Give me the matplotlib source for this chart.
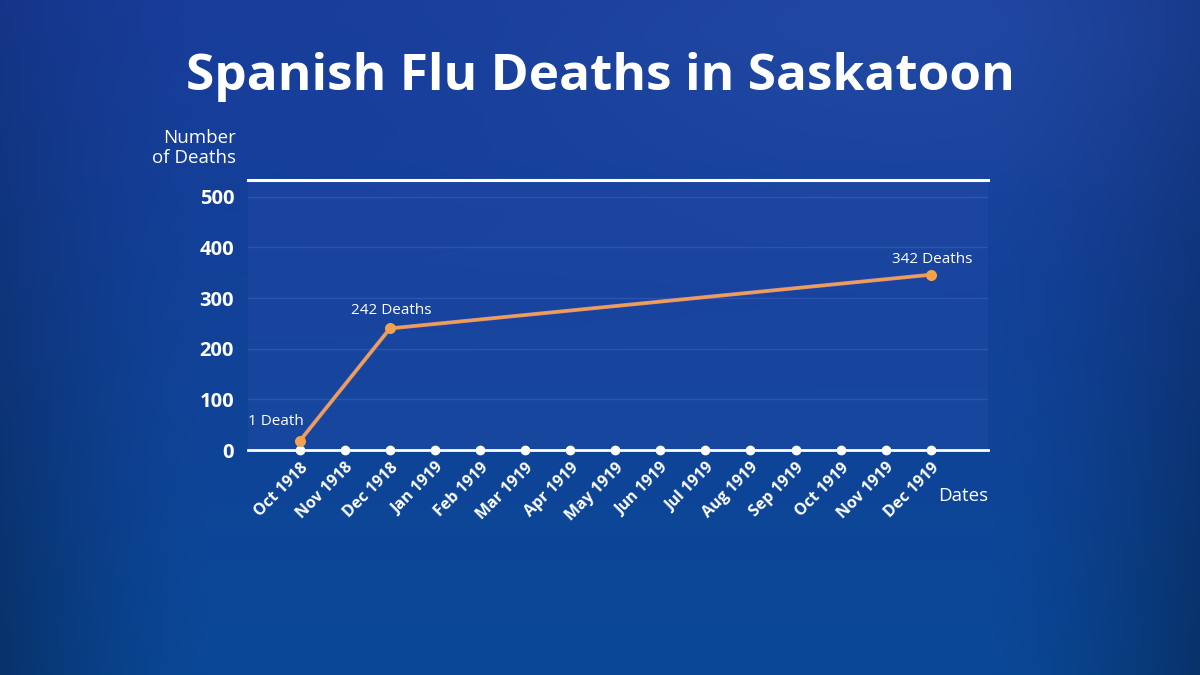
import numpy as np
import matplotlib
matplotlib.use("Agg")
import matplotlib.pyplot as plt
from matplotlib.colors import to_rgb

# ---- data ----
months = ["Oct 1918", "Nov 1918", "Dec 1918", "Jan 1919", "Feb 1919", "Mar 1919",
          "Apr 1919", "May 1919", "Jun 1919", "Jul 1919", "Aug 1919", "Sep 1919",
          "Oct 1919", "Nov 1919", "Dec 1919"]
point_months = ["Oct 1918", "Dec 1918", "Dec 1919"]
point_values = [18, 240, 346]
point_labels = ["1 Death", "242 Deaths", "342 Deaths"]
y_ticks = [0, 100, 200, 300, 400, 500]

plt.rcParams['font.family'] = ['Open Sans', 'DejaVu Sans']

fig = plt.figure(figsize=(12, 6.75), dpi=100)

# ---- background gradient ----
bg = fig.add_axes([0, 0, 1, 1], zorder=-10)
H, W = 270, 480
yy, xx = np.mgrid[0:1:H * 1j, 0:1:W * 1j]
top = np.array(to_rgb("#183c9a"))
bot = np.array(to_rgb("#0a4897"))
t = yy[..., None]
img = top * (1 - t) + bot * t
# lighter glow top-right
glow = np.exp(-(((xx - 0.75) / 0.35) ** 2 + ((yy - 0.05) / 0.25) ** 2))[..., None]
img = img + glow * (np.array(to_rgb("#2852aa")) - img) * 0.5
# vignette at edges (stronger lower down)
vig = np.clip((np.abs(xx - 0.5) - 0.32) / 0.18, 0, 1)[..., None] ** 1.5
img = img * (1 - (0.12 + 0.18 * t) * vig)
bg.imshow(np.clip(img, 0, 1), aspect='auto', extent=[0, 1, 0, 1], origin='upper')
bg.set_axis_off()

# ---- main axes ----
ax = fig.add_axes([248 / 1200, 1 - 450 / 675, (988 - 248) / 1200, (450 - 180) / 675])
ax.set_facecolor((0.16, 0.30, 0.68, 0.30))
ax.set_xlim(-1.15, 15.27)
ax.set_ylim(0, 533)

x = np.arange(len(months))
px = [months.index(m) for m in point_months]

# grid
for v in y_ticks[1:]:
    ax.axhline(v, color="#3a63bd", lw=1, alpha=0.55, zorder=1)
# top line
ax.axhline(533, color="white", lw=2.2, zorder=3, clip_on=False)
# baseline
ax.axhline(0, color="white", lw=2, zorder=3, clip_on=False)
ax.scatter(x, np.zeros_like(x), s=36, color="white", zorder=4, clip_on=False)

# line
ax.plot(px, point_values, color="#c98a9a", lw=2.8, zorder=5)
ax.plot(px, point_values, color="#f0a04e", lw=1.9, zorder=6)
ax.scatter(px, point_values, s=48, color="#f5a24c", zorder=7, clip_on=False)

offsets = [(-17, 14), (1, 13), (1, 11)]
for xi, v, lab, off in zip(px, point_values, point_labels, offsets):
    ax.annotate(lab, (xi, v), xytext=off, textcoords='offset points',
                ha='center', va='center', color="white", fontsize=11)

for s in ax.spines.values():
    s.set_visible(False)

ax.set_yticks(y_ticks)
ax.set_yticklabels([str(v) for v in y_ticks], color="white", fontsize=14.5, fontweight='bold')
ax.tick_params(axis='y', length=0, pad=10)
ax.set_xticks(x)
ax.set_xticklabels(months, rotation=45, ha='right', va='top', rotation_mode='anchor',
                   color="white", fontsize=11.5, fontweight='bold')
ax.tick_params(axis='x', length=0, pad=7)

fig.text(236 / 1200, 1 - 148 / 675, "Number\nof Deaths", ha='right', va='center',
         color="white", fontsize=13.5, linespacing=1.1)
fig.text(988 / 1200, 1 - 496 / 675, "Dates", ha='right', va='center',
         color="white", fontsize=13.5)
fig.text(0.5, 1 - 77 / 675, "Spanish Flu Deaths in Saskatoon", ha='center', va='center',
         color="white", fontsize=37, fontweight='bold')

fig.savefig("out.png", dpi=100)
